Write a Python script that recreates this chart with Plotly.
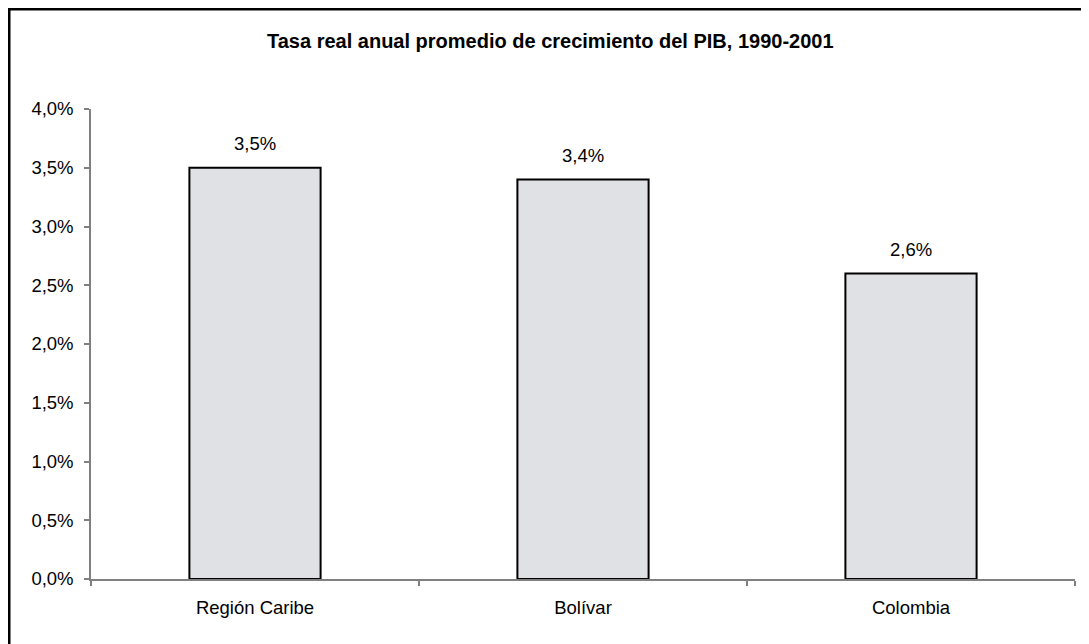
import plotly.graph_objects as go

categories = ["Región Caribe", "Bolívar", "Colombia"]
values = [0.035, 0.034, 0.026]
title_text = "Tasa real anual promedio de crecimiento del PIB, 1990-2001"
y_ticks = [0, 0.005, 0.01, 0.015, 0.02, 0.025, 0.03, 0.035, 0.04]

FONT = "Liberation Sans, Arial, sans-serif"
W, H = 1089, 644
L, R, T, B = 83, 22, 101, 73
PW, PH = W - L - R, H - T - B

fig = go.Figure()
fig.add_trace(go.Bar(
    x=categories, y=values,
    marker=dict(color="#e0e1e4", line=dict(color="#000000", width=2)),
    width=0.4,
    hoverinfo="skip",
))

for c, v in zip(categories, values):
    fig.add_annotation(
        x=c, y=v, xref="x", yref="y",
        text=f"{v*100:.1f}%".replace(".", ","),
        showarrow=False, yshift=24,
        font=dict(family=FONT, size=18.5, color="#000000"),
    )

fig.add_annotation(
    x=(542 - L) / PW, y=(H - B - 33) / PH, xref="paper", yref="paper",
    xanchor="center", yanchor="middle",
    text=f"<b>{title_text}</b>", showarrow=False,
    font=dict(family=FONT, size=20, color="#000000"),
)

# outer chart frame around the whole figure
fig.add_shape(
    type="rect", xref="paper", yref="paper",
    x0=(1.25 - L) / PW, x1=(W - 1.25 - L) / PW,
    y0=(H - B - (H - 1.25)) / PH, y1=(H - B - 1.25) / PH,
    line=dict(color="#000000", width=2.5), fillcolor="rgba(0,0,0,0)",
    layer="below",
)

fig.update_layout(
    width=W, height=H,
    margin=dict(l=L, r=R, t=T, b=B),
    paper_bgcolor="#ffffff", plot_bgcolor="#ffffff",
    separators=", ",
    showlegend=False,
    font=dict(family=FONT, size=18.5, color="#000000"),
)
fig.update_yaxes(
    range=[0, 0.04], tickvals=y_ticks, tickformat=".1%",
    showgrid=False, zeroline=False,
    showline=True, linecolor="#808080", linewidth=1.5,
    ticks="outside", ticklen=5, tickcolor="#808080", tickwidth=1.5,
    ticklabelstandoff=7,
    tickfont=dict(family=FONT, size=18.5, color="#000000"),
)
fig.update_xaxes(
    showgrid=False, zeroline=False,
    showline=True, linecolor="#808080", linewidth=1.5,
    ticks="outside", ticklen=5, tickcolor="#808080", tickwidth=1.5,
    tickson="boundaries", ticklabelstandoff=11,
    tickfont=dict(family=FONT, size=18.5, color="#000000"),
)

fig.write_html("out.html")
